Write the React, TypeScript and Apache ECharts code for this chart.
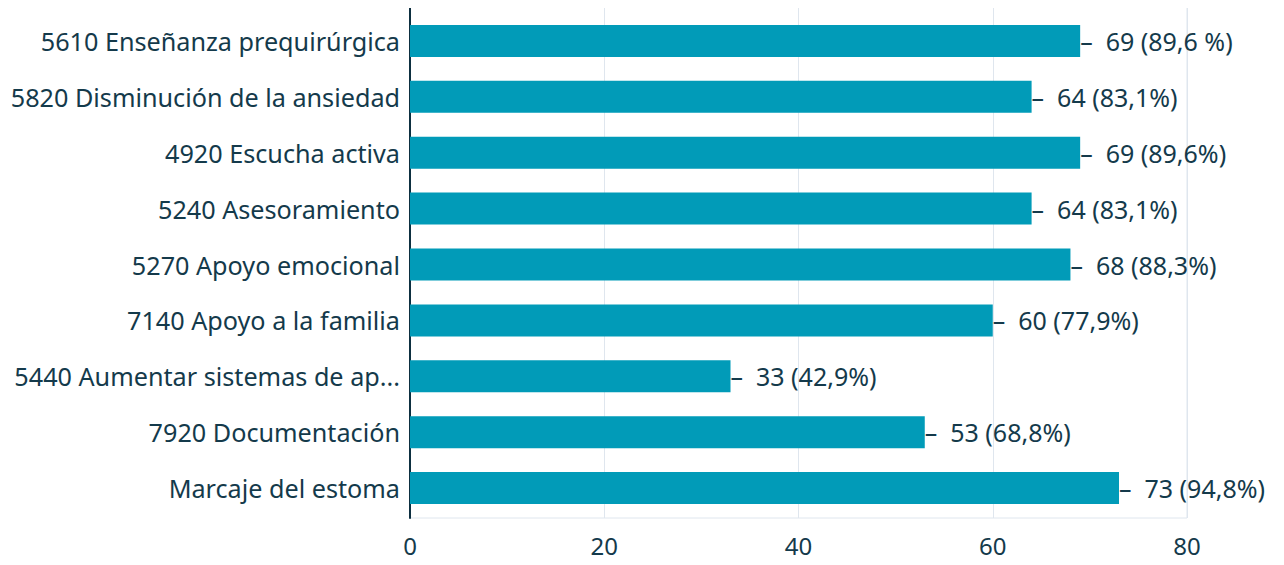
import React, { useEffect, useRef } from "react";
import * as echarts from "echarts";

const categories = [
  "5610 Enseñanza prequirúrgica",
  "5820 Disminución de la ansiedad",
  "4920 Escucha activa",
  "5240 Asesoramiento",
  "5270 Apoyo emocional",
  "7140 Apoyo a la familia",
  "5440 Aumentar sistemas de ap...",
  "7920 Documentación",
  "Marcaje del estoma",
];
const values = [69, 64, 69, 64, 68, 60, 33, 53, 73];
const valueLabels = [
  "69 (89,6 %)",
  "64 (83,1%)",
  "69 (89,6%)",
  "64 (83,1%)",
  "68 (88,3%)",
  "60 (77,9%)",
  "33 (42,9%)",
  "53 (68,8%)",
  "73 (94,8%)",
];
const xTicks = [0, 20, 40, 60, 80];

const TEXT = "#143a4b";
const FONT = "'Noto Sans', sans-serif";
const X_MIN = xTicks[0];
const X_MAX = xTicks[xTicks.length - 1];

export default function App() {
  const ref = useRef<HTMLDivElement>(null);
  useEffect(() => {
    if (!ref.current) return;
    const chart = echarts.init(ref.current, null, { renderer: "svg" });
    chart.setOption({
      animation: false,
      textStyle: { fontFamily: FONT },
      grid: [
        {
          left: 410,
          right: 97,
          top: 7,
          bottom: 47,
          show: true,
          borderColor: "#dfe6ee",
          borderWidth: 1,
        },
        {
          left: 410,
          right: 97,
          top: 13,
          bottom: 49,
        },
      ],
      xAxis: [
        {
          gridIndex: 0,
          type: "value",
          min: X_MIN,
          max: X_MAX,
          interval: 20,
          axisLine: { show: false },
          axisTick: { show: false },
          splitLine: { show: true, lineStyle: { color: "#dfe6ee", width: 1 } },
          axisLabel: {
            color: TEXT,
            fontSize: 24,
            margin: 15,
            fontFamily: FONT,
          },
        },
        {
          gridIndex: 1,
          type: "value",
          min: X_MIN,
          max: X_MAX,
          show: false,
        },
      ],
      yAxis: [
        {
          gridIndex: 0,
          type: "value",
          min: 0,
          max: 1,
          axisLine: { show: true, lineStyle: { color: "#0d2f40", width: 2 } },
          axisTick: { show: false },
          axisLabel: { show: false },
          splitLine: { show: false },
        },
        {
          gridIndex: 1,
          type: "category",
          data: categories,
          inverse: true,
          axisLine: { show: false },
          axisTick: { show: false },
          splitLine: { show: false },
          axisLabel: { color: TEXT, fontSize: 25.2, margin: 10, fontFamily: FONT },
        },
      ],
      series: [
        {
          type: "bar",
          xAxisIndex: 1,
          yAxisIndex: 1,
          data: values,
          barWidth: 32,
          itemStyle: { color: "#019bb8" },
          label: {
            show: true,
            position: "right",
            distance: 0,
            color: TEXT,
            fontSize: 25,
            fontFamily: FONT,
            formatter: (p: any) => "–  " + valueLabels[p.dataIndex],
          },
        },
      ],
    });
    return () => chart.dispose();
  }, []);
  return <div ref={ref} style={{ width: 1284, height: 565, marginLeft: -8, marginTop: -8 }} />;
}
